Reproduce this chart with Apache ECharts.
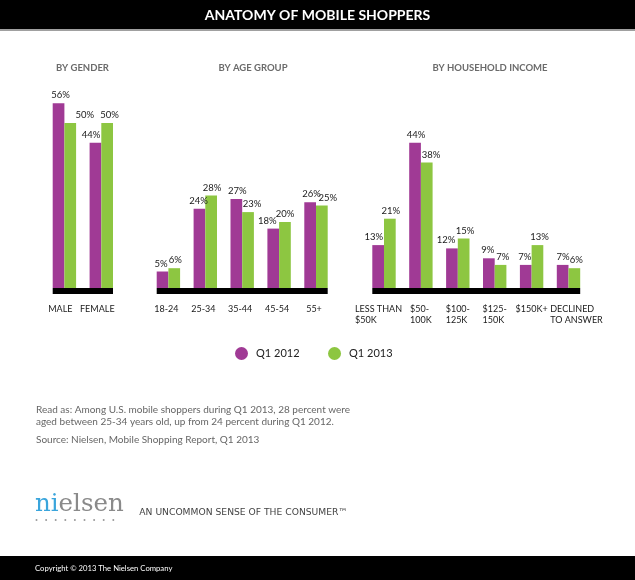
<!DOCTYPE html>
<html><head><meta charset="utf-8">
<script src="https://cdn.jsdelivr.net/npm/echarts@6/dist/echarts.min.js"></script>
<style>html,body{margin:0;padding:0;background:#fff}#c{width:635px;height:580px}</style>
</head><body><div id="c"></div>
<script>
// ---- data ----
const seriesNames = ['Q1 2012', 'Q1 2013'];
const genderCats = ['MALE', 'FEMALE'];
const gender2012 = [56, 44];
const gender2013 = [50, 50];
const ageCats = ['18-24', '25-34', '35-44', '45-54', '55+'];
const age2012 = [5, 24, 27, 18, 26];
const age2013 = [6, 28, 23, 20, 25];
const incomeCats = ['LESS THAN\n$50K', '$50-\n100K', '$100-\n125K', '$125-\n150K', '$150K+', 'DECLINED\nTO ANSWER'];
const income2012 = [13, 44, 12, 9, 7, 7];
const income2013 = [21, 38, 15, 7, 13, 6];
const panelTitles = ['BY GENDER', 'BY AGE GROUP', 'BY HOUSEHOLD INCOME'];

// ---- styles / layout ----
const PURPLE = '#a03a95', GREEN = '#8dc641';
const STEP = 36.9, BARW = 11.7, TOP = 90, H = 198, YMAX = 60;
const FONT = 'Lato';
const labelShift = {
  gender: [[2, -4.5], [14.5, 2.3]],
  age: [[-1.5, -1, 1, -6, 1.5], [1, 1, 4, 0, 6]],
  income: [[-4.4, 1, -5.8, -1, -1, 0.5], [1, 4.3, 1.3, 2.2, 2, 2]]
};
const panels = [
  { key: 'gender', cats: genderCats, d: [gender2012, gender2013], left: 52.7, titleX: 82.5, labelPad: [0, 8, 0, 0] },
  { key: 'age', cats: ageCats, d: [age2012, age2013], left: 156.7, titleX: 253, labelPad: [0, 4, 0, 0] },
  { key: 'income', cats: incomeCats, d: [income2012, income2013], left: 372.3, titleX: 490, labelPad: 0, rich: true }
];

const grid = [], xAxis = [], yAxis = [], series = [];
panels.forEach((p, gi) => {
  const n = p.cats.length;
  const half = BARW / STEP;
  grid.push({ left: p.left, top: TOP, width: STEP * (n - 1) + 2 * BARW, height: H });
  // blank labels at both axis ends so that no real label is treated as min/max label
  const ticks = [-half].concat(p.cats.map((c, i) => i), [n - 1 + half]);
  const axisLabel = {
    customValues: ticks,
    showMinLabel: false, showMaxLabel: false,
    margin: 13,
    color: '#1a1a1a',
    fontFamily: FONT,
    fontSize: 9,
    lineHeight: 11,
    padding: p.labelPad,
    formatter: v => {
      const i = Math.round(v);
      if (Math.abs(v - i) > 0.01 || i < 0 || i >= n) return '';
      const t = p.cats[i];
      if (!p.rich) return t;
      const k = i === 0 ? 'l' : (i === n - 1 ? 'r' : 'a');
      return '{' + k + '|' + t + '}';
    }
  };
  if (p.rich) {
    const base = { align: 'left', fontFamily: FONT, fontSize: 9, lineHeight: 11, color: '#1a1a1a' };
    axisLabel.rich = {
      a: Object.assign({}, base),
      l: Object.assign({ padding: [0, 11, 0, 0] }, base),
      r: Object.assign({ padding: [0, 0, 0, 16] }, base)
    };
  }
  xAxis.push({
    type: 'value', gridIndex: gi, min: -half, max: n - 1 + half,
    offset: 3,
    axisLine: { show: true, onZero: false, lineStyle: { color: '#000', width: 6, cap: 'butt' } },
    axisTick: { show: false }, splitLine: { show: false },
    axisLabel
  });
  yAxis.push({ type: 'value', gridIndex: gi, min: 0, max: YMAX, show: false, splitLine: { show: false } });
  p.d.forEach((vals, si) => {
    series.push({
      type: 'bar', name: seriesNames[si], xAxisIndex: gi, yAxisIndex: gi,
      barWidth: BARW, barGap: '0%',
      itemStyle: { color: si === 0 ? PURPLE : GREEN },
      label: {
        show: true, position: 'top', distance: 3,
        color: '#1a1a1a', fontFamily: FONT, fontSize: 9.5,
        formatter: q => q.value[1] + '%'
      },
      data: vals.map((v, i) => ({ value: [i, v], label: { offset: [labelShift[p.key][si][i], 0] } }))
    });
  });
});

function txt(x, y, text, font, fill, align, extra) {
  return Object.assign({
    type: 'text', x, y, silent: true,
    style: { text, font, fill, align: align || 'left', textAlign: align || 'left', verticalAlign: 'middle', textVerticalAlign: 'middle' }
  }, extra || {});
}

const graphic = [
  { type: 'rect', shape: { x: 0, y: 0, width: 635, height: 29 }, style: { fill: '#000' }, silent: true },
  { type: 'rect', shape: { x: 0, y: 29, width: 635, height: 2 }, style: { fill: '#a0a0a0' }, silent: true },
  txt(317.5, 15.5, 'ANATOMY OF MOBILE SHOPPERS', 'bold 14px ' + FONT, '#fff', 'center'),
  { type: 'rect', shape: { x: 0, y: 556, width: 635, height: 24 }, style: { fill: '#000' }, silent: true },
  txt(35, 569, 'Copyright © 2013 The Nielsen Company', '7.7px ' + FONT, '#fff', 'left'),
  txt(36, 410, 'Read as: Among U.S. mobile shoppers during Q1 2013, 28 percent were', '10px ' + FONT, '#666', 'left'),
  txt(36, 421.7, 'aged between 25-34 years old, up from 24 percent during Q1 2012.', '10px ' + FONT, '#666', 'left'),
  txt(36, 439.3, 'Source: Nielsen, Mobile Shopping Report, Q1 2013', '10px ' + FONT, '#666', 'left'),
  {
    type: 'text', x: 35, y: 505, silent: true,
    style: {
      text: '{b|ni}{g|elsen}', verticalAlign: 'middle', textVerticalAlign: 'middle',
      rich: {
        b: { fontFamily: 'DejaVu Serif', fontSize: 24.5, fill: '#3aa5dc', color: '#3aa5dc' },
        g: { fontFamily: 'DejaVu Serif', fontSize: 24.5, fill: '#8a8a8a', color: '#8a8a8a' }
      }
    }
  },
  txt(139.3, 513, 'AN UNCOMMON SENSE OF THE CONSUMER™', '9.2px DejaVu Sans', '#444', 'left')
];
for (let i = 0; i < 9; i++) {
  graphic.push({ type: 'circle', silent: true, shape: { cx: 36.5 + i * 9.6, cy: 520, r: 1 }, style: { fill: '#999' } });
}
panels.forEach((p, i) => graphic.push(txt(p.titleX, 67.7, panelTitles[i], 'bold 9.5px ' + FONT, '#6b6b6b', 'center')));

const chart = echarts.init(document.getElementById('c'), null, { renderer: 'canvas' });
chart.setOption({
  animation: false,
  backgroundColor: '#fff',
  textStyle: { fontFamily: FONT },
  legend: {
    data: seriesNames, left: 235, top: 347, padding: 0, itemGap: 28.5,
    icon: 'circle', itemWidth: 13, itemHeight: 13, selectedMode: false,
    textStyle: { fontFamily: FONT, fontSize: 11, color: '#222', padding: [0, 0, 0, 3] }
  },
  grid, xAxis, yAxis, series, graphic
});
</script></body></html>
